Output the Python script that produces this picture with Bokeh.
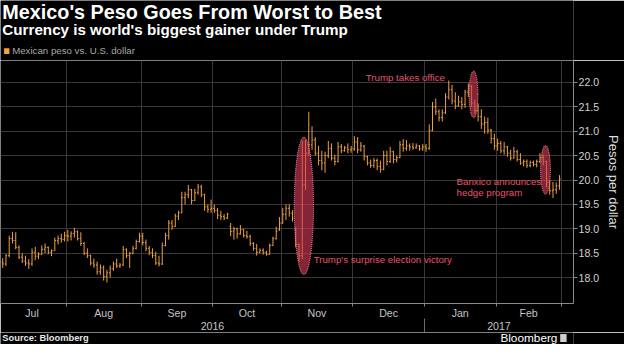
import pandas as pd
from bokeh.plotting import figure
from bokeh.models import Range1d, FixedTicker, LinearAxis, PrintfTickFormatter, ColumnDataSource
from bokeh.layouts import column
from bokeh.core.properties import value
from bokeh.embed import file_html
from bokeh.resources import INLINE

# ---------------- data (USD/MXN daily bars, Jul 4 2016 - Feb 28 2017) ----------------
OPEN = [
    # Jul
    18.32, 18.28, 18.45, 18.80, 18.76, 18.62, 18.42, 18.34, 18.30, 18.28,
    18.52, 18.44, 18.48, 18.58, 18.62, 18.52, 18.55, 18.76, 18.80, 18.78,
    # Aug
    18.86, 18.85, 18.90, 18.94, 18.80, 18.70, 18.50, 18.45, 18.30, 18.26, 18.12, 18.20,
    18.02, 18.10, 18.18, 18.28, 18.24, 18.26, 18.58, 18.45, 18.50, 18.60, 18.74,
    # Sep
    18.85, 18.72, 18.60, 18.52, 18.45, 18.30, 18.28, 18.66, 18.86, 19.12, 19.05,
    19.26, 19.33, 19.64, 19.70, 19.80, 19.58, 19.74, 19.86, 19.70, 19.45, 19.40,
    # Oct
    19.42, 19.38, 19.28, 19.25, 19.22, 19.05, 18.95, 19.00, 18.90, 18.98, 18.86,
    18.84, 18.70, 18.60, 18.52, 18.56, 18.52, 18.48, 18.66, 18.80, 18.98,
    # Nov
    19.12, 19.30, 19.42, 19.32, 18.98, 18.68, 18.45, 19.90, 20.55, 20.72, 20.82,
    20.55, 20.40, 20.35, 20.50, 20.65, 20.45, 20.38, 20.68, 20.60, 20.66, 20.62,
    # Dec
    20.64, 20.78, 20.62, 20.70, 20.48, 20.35, 20.30, 20.40, 20.28, 20.22, 20.50,
    20.38, 20.58, 20.42, 20.46, 20.72, 20.65, 20.70, 20.68, 20.66, 20.70, 20.64,
    # Jan
    20.68, 20.65, 21.02, 21.50, 21.40, 21.28, 21.38, 21.70, 21.85, 21.62, 21.52,
    21.60, 21.55, 21.80, 21.92, 21.58, 21.42, 21.30, 21.15, 21.18, 21.02, 20.85,
    # Feb
    20.70, 20.75, 20.60, 20.68, 20.55, 20.45, 20.58, 20.42, 20.35, 20.38,
    20.30, 20.36, 20.32, 20.38, 20.46, 20.38, 19.95, 19.78, 19.80, 19.88,
]
HIGH = [
    18.40, 18.48, 18.86, 18.94, 18.93, 18.66, 18.50, 18.45, 18.38, 18.60,
    18.63, 18.52, 18.66, 18.70, 18.64, 18.58, 18.82, 18.86, 18.90, 18.94,
    18.98, 18.95, 19.02, 18.97, 18.93, 18.73, 18.60, 18.47, 18.39, 18.33, 18.27, 18.25,
    18.16, 18.25, 18.33, 18.39, 18.30, 18.65, 18.60, 18.53, 18.65, 18.78, 18.92,
    18.92, 18.78, 18.65, 18.60, 18.53, 18.45, 18.72, 18.92, 19.18, 19.18, 19.31,
    19.37, 19.76, 19.76, 19.90, 19.82, 19.82, 19.92, 19.90, 19.72, 19.50, 19.60,
    19.50, 19.43, 19.37, 19.30, 19.33, 19.12, 19.04, 19.02, 19.08, 19.00, 18.96,
    18.88, 18.73, 18.69, 18.60, 18.60, 18.55, 18.70, 18.84, 19.04, 19.24,
    19.43, 19.50, 19.50, 19.38, 19.04, 18.70, 20.80, 20.82, 21.40, 21.10, 20.88,
    20.70, 20.60, 20.58, 20.80, 20.75, 20.52, 20.78, 20.74, 20.70, 20.75, 20.70,
    20.90, 20.88, 20.78, 20.72, 20.50, 20.42, 20.45, 20.44, 20.40, 20.60, 20.60,
    20.68, 20.60, 20.50, 20.80, 20.84, 20.82, 20.75, 20.76, 20.75, 20.72, 20.74,
    20.74, 21.14, 21.60, 21.67, 21.45, 21.45, 21.78, 22.04, 21.95, 21.80, 21.73,
    21.70, 21.85, 21.98, 21.95, 21.65, 21.57, 21.45, 21.30, 21.28, 21.05, 20.95,
    20.85, 20.80, 20.78, 20.70, 20.62, 20.68, 20.62, 20.55, 20.42, 20.42,
    20.40, 20.40, 20.42, 20.55, 20.52, 20.40, 20.00, 19.96, 19.95, 20.10,
]
LOW = [
    18.20, 18.24, 18.42, 18.70, 18.58, 18.38, 18.30, 18.24, 18.18, 18.24,
    18.36, 18.38, 18.46, 18.50, 18.48, 18.44, 18.55, 18.68, 18.72, 18.74,
    18.74, 18.76, 18.82, 18.76, 18.65, 18.46, 18.40, 18.25, 18.20, 18.06, 18.06, 17.94,
    17.90, 18.00, 18.14, 18.20, 18.20, 18.24, 18.40, 18.20, 18.48, 18.58, 18.72,
    18.66, 18.54, 18.46, 18.40, 18.26, 18.23, 18.26, 18.64, 18.78, 18.98, 19.04,
    19.18, 19.32, 19.50, 19.63, 19.50, 19.57, 19.70, 19.65, 19.37, 19.33, 19.33,
    19.33, 19.20, 19.18, 19.18, 19.20, 18.85, 18.78, 18.80, 18.88, 18.82, 18.80,
    18.65, 18.55, 18.45, 18.50, 18.47, 18.45, 18.47, 18.65, 18.78, 18.96,
    19.10, 19.18, 19.25, 19.15, 18.62, 18.33, 18.38, 19.80, 20.50, 20.62, 20.50,
    20.30, 20.20, 20.15, 20.45, 20.40, 20.30, 20.36, 20.55, 20.58, 20.55, 20.56,
    20.60, 20.55, 20.58, 20.40, 20.30, 20.25, 20.25, 20.20, 20.15, 20.20, 20.30,
    20.35, 20.34, 20.36, 20.45, 20.58, 20.60, 20.60, 20.62, 20.64, 20.60, 20.60,
    20.58, 20.62, 21.00, 21.33, 21.20, 21.20, 21.35, 21.65, 21.55, 21.45, 21.50,
    21.45, 21.48, 21.70, 21.50, 21.35, 21.20, 21.05, 20.95, 20.95, 20.75, 20.62,
    20.60, 20.55, 20.52, 20.48, 20.40, 20.44, 20.38, 20.31, 20.28, 20.25,
    20.26, 20.28, 20.26, 20.35, 20.30, 19.85, 19.70, 19.63, 19.72, 19.80,
]
CLOSE = [
    18.28, 18.45, 18.80, 18.76, 18.62, 18.42, 18.34, 18.30, 18.28, 18.52,
    18.44, 18.48, 18.58, 18.62, 18.52, 18.55, 18.76, 18.80, 18.78, 18.86,
    18.85, 18.90, 18.94, 18.80, 18.70, 18.50, 18.45, 18.30, 18.26, 18.12, 18.20, 18.02,
    18.10, 18.18, 18.28, 18.24, 18.26, 18.58, 18.45, 18.50, 18.60, 18.74, 18.85,
    18.72, 18.60, 18.52, 18.45, 18.30, 18.28, 18.66, 18.86, 19.12, 19.05, 19.26,
    19.33, 19.64, 19.70, 19.80, 19.58, 19.74, 19.86, 19.70, 19.45, 19.40, 19.42,
    19.38, 19.28, 19.25, 19.22, 19.30, 18.95, 19.00, 18.90, 18.98, 18.86, 18.84,
    18.70, 18.60, 18.52, 18.56, 18.52, 18.48, 18.66, 18.80, 18.95, 19.12,
    19.30, 19.42, 19.32, 19.22, 18.68, 18.45, 19.90, 20.55, 20.72, 20.82, 20.55,
    20.40, 20.35, 20.50, 20.65, 20.45, 20.38, 20.68, 20.60, 20.66, 20.62, 20.64,
    20.78, 20.62, 20.70, 20.48, 20.35, 20.30, 20.40, 20.28, 20.22, 20.50, 20.38,
    20.58, 20.42, 20.46, 20.72, 20.65, 20.70, 20.68, 20.66, 20.70, 20.64, 20.68,
    20.65, 21.02, 21.50, 21.40, 21.28, 21.38, 21.70, 21.85, 21.62, 21.52, 21.60,
    21.55, 21.80, 21.92, 21.58, 21.42, 21.30, 21.15, 21.18, 21.02, 20.85, 20.70,
    20.75, 20.60, 20.68, 20.55, 20.45, 20.58, 20.42, 20.35, 20.38, 20.30,
    20.36, 20.32, 20.38, 20.46, 20.38, 19.95, 19.78, 19.80, 19.88, 20.02,
]
MONTH_LABELS = ["Jul", "Aug", "Sep", "Oct", "Nov", "Dec", "Jan", "Feb"]
YEAR_LABELS = ["2016", "2017"]
Y_TICKS = [18.0, 18.5, 19.0, 19.5, 20.0, 20.5, 21.0, 21.5, 22.0]
ANNOTATIONS = ["Trump takes office", "Banxico announces", "hedge program",
               "Trump's surprise election victory"]

TITLE = "Mexico's Peso Goes From Worst to Best"
SUBTITLE = "Currency is world's biggest gainer under Trump"
SERIES_NAME = "Mexican peso vs. U.S. dollar"
Y_LABEL = "Pesos per dollar"

# ---------------- positions on a trading-day axis ----------------
FONT = value("Liberation Sans")
n = len(CLOSE)
DATES = pd.bdate_range("2016-07-04", periods=n)
xs = list(range(n))
cal = pd.bdate_range("2016-07-01", "2017-03-31")
offset = list(cal).index(DATES[0])
starts = [k - offset - 0.5 for k in range(len(cal))
          if k == 0 or cal[k].month != cal[k - 1].month]
month_centers = [(starts[j] + starts[j + 1]) / 2 for j in range(len(MONTH_LABELS))]
boundaries = starts[1:len(MONTH_LABELS) + 1]
jan_b = starts[6]
X_START, X_END = -0.68, 175.3
year_centers = [(X_START + jan_b) / 2, (jan_b + X_END) / 2]

BG = "#000000"
BAR = "#eda040"
GRID = "#383838"
AXIS = "#8a8a8a"
ANNO = "#e8536c"
W = 624

# ---------------- header ----------------
HH = 60
hdr = figure(width=W, height=HH, x_range=Range1d(0, W), y_range=Range1d(0, HH),
             x_axis_location=None, y_axis_location=None, toolbar_location=None,
             output_backend="svg", title=None, min_border=0, outline_line_color=None,
             background_fill_color=BG, border_fill_color=BG)
hdr.grid.visible = False
hdr.text(x=[2], y=[HH - 11], text=[TITLE], text_font=FONT, text_font_size="19.8px",
         text_font_style="bold", text_color="#ffffff", text_baseline="middle")
hdr.text(x=[2], y=[HH - 29], text=[SUBTITLE], text_font=FONT, text_font_size="15.2px",
         text_font_style="bold", text_color="#ffffff", text_baseline="middle")
hdr.rect(x=[6.8], y=[HH - 50.6], width=5.8, height=5.8, fill_color="#f5a534", line_color=None)
hdr.text(x=[12.7], y=[HH - 50], text=[SERIES_NAME], text_font=FONT, text_font_size="9.7px",
         text_color="#a8a8a8", text_baseline="middle")

# ---------------- main chart ----------------
p = figure(width=W, height=272, x_range=Range1d(X_START, X_END),
           y_range=Range1d(17.47, 22.45), y_axis_location="right",
           toolbar_location=None, output_backend="svg", title=None,
           min_border_left=0, min_border_right=46, min_border_top=0, min_border_bottom=28,
           background_fill_color=BG, border_fill_color=BG, outline_line_color=None)

src = ColumnDataSource(dict(x=xs, o=OPEN, h=HIGH, l=LOW, c=CLOSE,
                            xl=[i - 0.35 for i in xs], xr=[i + 0.35 for i in xs]))
p.segment(x0="x", y0="l", x1="x", y1="h", source=src, line_color=BAR, line_width=1)
p.segment(x0="xl", y0="o", x1="x", y1="o", source=src, line_color=BAR, line_width=1)
p.segment(x0="x", y0="c", x1="xr", y1="c", source=src, line_color=BAR, line_width=1)

# highlight ellipses
p.ellipse(x=[92.5, 144.6, 166.7], y=[19.47, 21.755, 20.21],
          width=[5.9, 2.7, 3.0], height=[2.82, 0.96, 1.0],
          fill_color="#d63a58", fill_alpha=0.62, line_color="#f39aa8",
          line_dash="1 1", line_width=1)

p.text(x=[111.5, 139.4, 139.4, 95.5], y=[22.1, 19.98, 19.75, 18.37], text=ANNOTATIONS,
       text_font=FONT, text_font_size="9.7px", text_color=ANNO,
       text_baseline="middle", text_align="left")

# right value axis
ya = p.yaxis[0]
ya.ticker = FixedTicker(ticks=Y_TICKS)
ya.formatter = PrintfTickFormatter(format="%.1f")
ya.axis_label = Y_LABEL
ya.axis_label_text_font = "Liberation Sans"
ya.axis_label_text_font_size = "13px"
ya.axis_label_text_font_style = "normal"
ya.axis_label_text_color = "#dddddd"
ya.axis_label_standoff = 4
ya.major_label_text_font = "Liberation Sans"
ya.major_label_text_font_size = "10.6px"
ya.major_label_text_color = "#d0d0d0"
ya.major_label_standoff = 1
ya.major_tick_out = 4
ya.major_tick_in = 0
ya.minor_tick_line_color = None
ya.minor_tick_out = 0
ya.minor_tick_in = 0
ya.axis_line_color = AXIS
ya.major_tick_line_color = AXIS

# month axis
xa = p.xaxis[0]
xa.ticker = FixedTicker(ticks=month_centers, minor_ticks=boundaries)
xa.major_label_overrides = {c: lab for c, lab in zip(month_centers, MONTH_LABELS)}
xa.major_tick_line_color = None
xa.major_tick_out = 0
xa.major_tick_in = 0
xa.minor_tick_line_color = AXIS
xa.minor_tick_out = 3
xa.minor_tick_in = 0
xa.axis_line_color = AXIS
xa.major_label_text_font = "Liberation Sans"
xa.major_label_text_font_size = "10.6px"
xa.major_label_text_color = "#c4c4c4"
xa.major_label_standoff = 0

# year axis (separator drawn as a minor tick at the year boundary)
yr = LinearAxis(ticker=FixedTicker(ticks=year_centers, minor_ticks=[jan_b]),
                major_label_overrides={c: lab for c, lab in zip(year_centers, YEAR_LABELS)},
                axis_line_color=None, major_tick_line_color=None,
                major_tick_out=0, major_tick_in=0,
                minor_tick_line_color="#6a6a6a", minor_tick_in=3, minor_tick_out=12,
                major_label_standoff=-12, major_label_text_font="Liberation Sans",
                major_label_text_font_size="10.6px", major_label_text_color="#c4c4c4")
p.add_layout(yr, "below")

p.xgrid.ticker = FixedTicker(ticks=boundaries)
p.xgrid.grid_line_color = GRID
p.ygrid.grid_line_color = GRID

# ---------------- footer ----------------
FH = 12
ftr = figure(width=W, height=FH, x_range=Range1d(0, W), y_range=Range1d(0, FH),
             x_axis_location=None, y_axis_location=None, toolbar_location=None,
             output_backend="svg", title=None, min_border=0, outline_line_color=None,
             background_fill_color=BG, border_fill_color=BG)
ftr.grid.visible = False
ftr.text(x=[2], y=[6.5], text=["Source: Bloomberg"], text_font=FONT, text_font_size="9.3px",
         text_font_style="bold", text_color="#e6e6e6", text_baseline="middle")
ftr.text(x=[606.5], y=[6.5], text=["Bloomberg"], text_font=FONT, text_font_size="11.8px",
         text_color="#ffffff", text_baseline="middle", text_align="right")
ftr.rect(x=[613], y=[6.5], width=7, height=8, fill_color="#cfcfcf", line_color=None)

layout = column(hdr, p, ftr)
open("out.html", "w").write(file_html(layout, INLINE))
